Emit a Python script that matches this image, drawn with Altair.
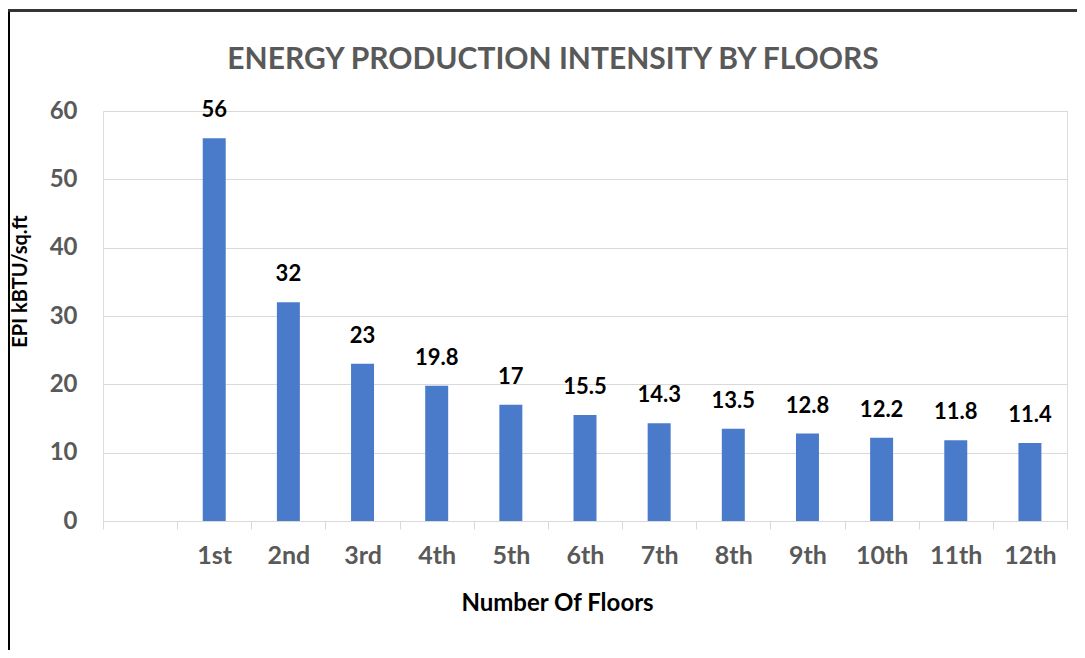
import altair as alt
import pandas as pd

floors = ["1st", "2nd", "3rd", "4th", "5th", "6th", "7th", "8th", "9th", "10th", "11th", "12th"]
epi = [56, 32, 23, 19.8, 17, 15.5, 14.3, 13.5, 12.8, 12.2, 11.8, 11.4]
domain = [""] + floors

df = pd.DataFrame({"floor": floors, "epi": epi})

FONT = "Lato"
W, H = 964, 410

x = alt.X("floor:N", scale=alt.Scale(domain=domain, paddingInner=0, paddingOuter=0),
          sort=domain,
          axis=alt.Axis(title="Number Of Floors", tickBand="extent", tickSize=8, tickColor="#d9d9d9",
                        domainColor="#d9d9d9", labelAngle=0, labelFont=FONT, labelFontSize=25,
                        labelFontWeight="bold", labelColor="#595959", labelPadding=14,
                        titleFont=FONT, titleFontSize=24, titleFontWeight="bold", titleColor="#000000",
                        titleX=454, titleY=82, titleBaseline="middle", titleAlign="center"))
y = alt.Y("epi:Q", scale=alt.Scale(domain=[0, 60], nice=False),
          axis=alt.Axis(title="EPI kBTU/sq.ft", values=[0, 10, 20, 30, 40, 50, 60], ticks=False,
                        domain=False, gridColor="#d9d9d9", labelFont=FONT, labelFontSize=24,
                        labelFontWeight="bold", labelColor="#595959", labelPadding=26,
                        titleFont=FONT, titleFontSize=20, titleFontWeight="bold", titleColor="#000000",
                        titleX=-83, titleY=170, titleAngle=270, titleBaseline="middle", titleAlign="center"))

bars = alt.Chart(df).mark_bar(color="#4a7bca", width=alt.RelativeBandSize(0.31)).encode(x=x, y=y)
labels = alt.Chart(df).mark_text(font=FONT, fontSize=22, fontWeight="bold", color="#000000",
                                 baseline="middle", dy=-28).encode(
    x=alt.X("floor:N", sort=domain), y="epi:Q", text=alt.Text("epi:Q"))

left_border = alt.Chart(df).mark_rule(color="#000000", strokeWidth=2).encode(
    x=alt.value(-94), y=alt.value(-101), y2=alt.value(550))
top_border = alt.Chart(df).mark_rule(color="#333333", strokeWidth=1.5).encode(
    x=alt.value(-95), x2=alt.value(990), y=alt.value(-100.5))
bottom_border = alt.Chart(df).mark_rule(color="#d0d0d0", strokeWidth=1.5).encode(
    x=alt.value(-95), x2=alt.value(990), y=alt.value(543))

chart = alt.layer(bars, labels, left_border, top_border, bottom_border).properties(
    width=W, height=H,
    title=alt.TitleParams("ENERGY PRODUCTION INTENSITY BY FLOORS", font=FONT, fontSize=30,
                          fontWeight="bold", color="#595959", frame="group", offset=0, dy=66, dx=-32),
    autosize=alt.AutoSizeParams(type="none"),
    padding={"left": 95, "top": 103, "right": 10, "bottom": 129},
).configure_view(stroke=None).configure(background="white")

chart.save("out.html", embed_options={"renderer": "svg", "actions": False})
